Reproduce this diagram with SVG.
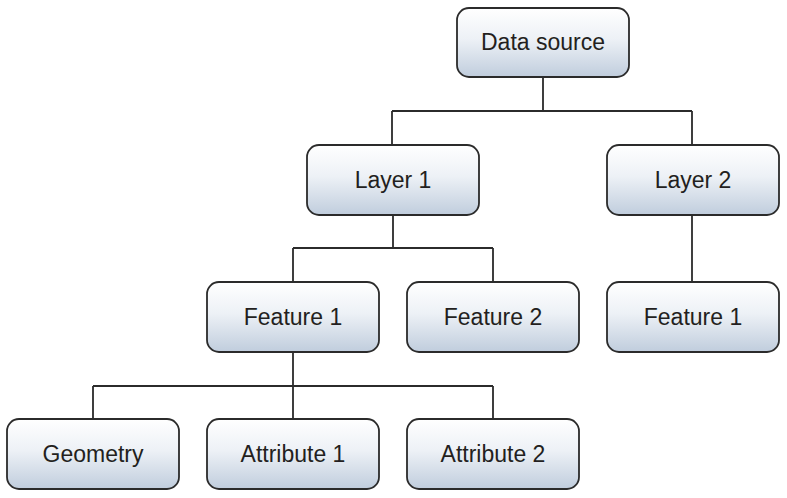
<svg xmlns="http://www.w3.org/2000/svg" width="787" height="498" viewBox="0 0 787 498">
<defs>
<linearGradient id="g" x1="0" y1="0" x2="0" y2="1">
<stop offset="0" stop-color="#ffffff"/>
<stop offset="0.45" stop-color="#edf1f6"/>
<stop offset="1" stop-color="#c0cddd"/>
</linearGradient>
</defs>
<style>
.box{fill:url(#g);stroke:#2b2b2b;stroke-width:1.8}
.t{font-family:"Liberation Sans",Arial,sans-serif;font-size:23px;fill:#231f20;text-anchor:middle}
.c{fill:none;stroke:#2b2b2b;stroke-width:1.8}
</style>
<rect width="787" height="498" fill="#ffffff"/>
<g id="connectors">
<path class="c" d="M543 77V111M392 111H692M392 111V145M692 111V145"/>
<path class="c" d="M393 215V248M293 248H493M293 248V282M493 248V282"/>
<path class="c" d="M692 215V282"/>
<path class="c" d="M293 352V386M93 386H493M93 386V419M293 386V419M493 386V419"/>
</g>
<g id="datasource"><rect class="box" x="457" y="8" width="172" height="69" rx="12"/><text class="t" x="543" y="50">Data source</text></g>
<g id="layer1"><rect class="box" x="307" y="145" width="172" height="70" rx="12"/><text class="t" x="393" y="188">Layer 1</text></g>
<g id="layer2"><rect class="box" x="607" y="145" width="172" height="70" rx="12"/><text class="t" x="693" y="188">Layer 2</text></g>
<g id="feature1"><rect class="box" x="207" y="282" width="172" height="70" rx="12"/><text class="t" x="293" y="325">Feature 1</text></g>
<g id="feature2"><rect class="box" x="407" y="282" width="172" height="70" rx="12"/><text class="t" x="493" y="325">Feature 2</text></g>
<g id="feature1b"><rect class="box" x="607" y="282" width="172" height="70" rx="12"/><text class="t" x="693" y="325">Feature 1</text></g>
<g id="geometry"><rect class="box" x="7" y="419" width="172" height="70" rx="12"/><text class="t" x="93" y="462">Geometry</text></g>
<g id="attribute1"><rect class="box" x="207" y="419" width="172" height="70" rx="12"/><text class="t" x="293" y="462">Attribute 1</text></g>
<g id="attribute2"><rect class="box" x="407" y="419" width="172" height="70" rx="12"/><text class="t" x="493" y="462">Attribute 2</text></g>
</svg>
